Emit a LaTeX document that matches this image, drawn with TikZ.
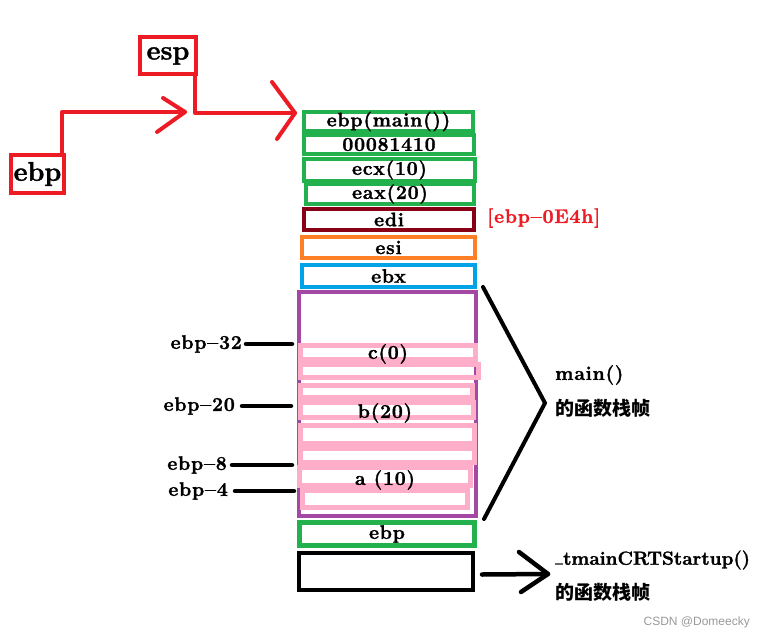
\documentclass[tikz,border=0pt]{standalone}
\usepackage{fontspec}
\usetikzlibrary{calc}
\setmainfont{Latin Modern Roman}[BoldFeatures={FakeBold=1.5,LetterSpace=4}]
\newfontfamily\tightfont{Latin Modern Roman}[BoldFeatures={FakeBold=1.5}]
\newfontfamily\cjk{Noto Sans CJK SC}
\newfontfamily\wmfont{Liberation Sans}
\definecolor{pgreen}{HTML}{22B14C}
\definecolor{pred}{HTML}{ED1C24}
\definecolor{pdark}{HTML}{880015}
\definecolor{porange}{HTML}{FF7F27}
\definecolor{pblue}{HTML}{00A2E8}
\definecolor{ppurple}{HTML}{A349A4}
\definecolor{ppink}{HTML}{FFAEC9}
\begin{document}
\begin{tikzpicture}[x=1pt,y=-1pt,
  lbl/.style={font=\bfseries\fontsize{19.5}{19.5}\selectfont, inner sep=0pt},
  cjklbl/.style={font=\cjk\bfseries\fontsize{19}{19}\selectfont, inner sep=0pt},
  stk/.style={draw=#1, line width=4pt, inner sep=0pt, lbl},
  pinkbox/.style={draw=ppink, line width=5pt, inner sep=0pt, lbl},
  reg/.style={draw=pred, line width=4pt, inner sep=0pt, font=\tightfont\bfseries\fontsize{27}{27}\selectfont},
  redline/.style={draw=pred, line width=4pt, line cap=round, line join=round},
  blackline/.style={draw=black, line width=4.5pt, line cap=round, line join=round}]
\useasboundingbox (0,0) rectangle (765,639);

% registers
\node[reg, minimum width=56, minimum height=37] (espreg) at (168,56) {esp};
\node[reg, minimum width=53, minimum height=38] (ebpreg) at (37.5,174) {ebp};

% saved registers at the top of the frame
\node[stk=pgreen, minimum width=169, minimum height=19] (n1) at (388.5,121.5) {ebp(main())};
\node[stk=pgreen, minimum width=170, minimum height=19] (n2) at (389,144.5) {00081410};
\node[stk=pgreen, minimum width=171, minimum height=22] (n3) at (389.5,170) {ecx(10)};
\node[stk=pgreen, minimum width=168, minimum height=18] (n4) at (390,194) {eax(20)};
\node[stk=pdark, minimum width=170, minimum height=21] (n5) at (389,219.5) {edi};
\node[stk=porange, minimum width=173, minimum height=21] (n6) at (388.5,247.5) {esi};
\node[stk=pblue, minimum width=173, minimum height=22] (n7) at (388.5,276) {ebx};
\node[lbl, text=pred, anchor=west] (edioff) at (487,218) {[ebp--0E4h]};

% local variable area
\node[draw=ppurple, line width=4pt, minimum width=177, minimum height=224, inner sep=0pt] (locals) at (387.5,404) {};
\node[pinkbox, minimum width=175, minimum height=14] (pk1) at (388,352.5) {};
\node[pinkbox, minimum width=178, minimum height=13] (pk2) at (389.5,371) {};
\node[pinkbox, minimum width=172, minimum height=12] (pk3) at (386.5,391.5) {};
\node[pinkbox, minimum width=173, minimum height=15] (pk4) at (387,410) {};
\node[pinkbox, minimum width=174, minimum height=18] (pk5) at (387.5,434.5) {};
\node[pinkbox, minimum width=174, minimum height=14] (pk6) at (387.5,455.5) {};
\node[pinkbox, minimum width=171, minimum height=18] (pk7) at (385,476.5) {};
\node[pinkbox, minimum width=165, minimum height=17] (pk8) at (385,499) {};
\node[lbl] (vc) at (388,354) {c(0)};
\node[lbl] (vb) at (385,413) {b(20)};
\node[lbl] (va) at (385,480) {a (10)};

% bottom of the frame and the caller's frame
\node[draw=pgreen, line width=5pt, minimum width=175, minimum height=23, inner sep=0pt, lbl] (n8) at (387,534) {ebp};
\node[draw=black, line width=4pt, minimum width=174, minimum height=37, inner sep=0pt] (caller) at (386,571.5) {};

% offsets relative to ebp
\node[lbl, anchor=east] (l32) at (242,344) {ebp--32};
\node[lbl, anchor=east] (l20) at (235,406) {ebp--20};
\node[lbl, anchor=east] (l8) at (227,465) {ebp--8};
\node[lbl, anchor=east] (l4) at (228,491) {ebp--4};
\draw[blackline, shorten <=4pt, shorten >=6pt] (l32.east) -- (l32.east -| pk1.west);
\draw[blackline, shorten <=7pt, shorten >=7pt] (l20.east) -- (l20.east -| pk4.west);
\draw[blackline, shorten <=5pt, shorten >=5pt] (l8.east) -- (l8.east -| pk7.west);
\draw[blackline, shorten <=7pt, shorten >=3pt] (l4.east) -- (l4.east -| pk7.west);

% ebp / esp movement arrows
\coordinate (t1) at (185,112);
\coordinate (t2) at (295,113);
\draw[redline] ([xshift=-4pt]ebpreg.north east) |- (t1);
\draw[redline] ($(t1)+(-22,-14)$) -- (t1) -- ++(-28,20);
\draw[redline] ([xshift=-3pt]espreg.south east) |- (t2);
\draw[redline] ($(t2)+(-23,-31)$) -- (t2) -- ++(-18,26);

% brace for main's frame
\coordinate (bk) at (545,403);
\draw[blackline, line width=4pt] ([xshift=5pt,yshift=3pt]locals.north east) -- (bk) -- ([xshift=6pt,yshift=-1pt]locals.south east);
\node[lbl, anchor=west] (mname) at (555,375) {main()};
\node[cjklbl, anchor=west] (mdesc) at (555,408) {的函数栈帧};

% arrow to the caller's frame
\coordinate (t3) at (548,574);
\draw[blackline] ([xshift=7pt,yshift=-3pt]caller.east) -- (t3);
\draw[blackline] ($(t3)+(-29,-22)$) -- (t3) -- ++(-27,18);
\node[lbl, font=\tightfont\bfseries\fontsize{19}{19}\selectfont, anchor=west] (cname) at (555,560)
  {{\color{black!60}\rule{8pt}{1.6pt}}tmainCRTStartup()};
\node[cjklbl, anchor=west] (cdesc) at (555,592) {的函数栈帧};

\node[font=\wmfont\fontsize{12}{12}\selectfont, text=black!40, anchor=east, inner sep=0pt] (wm) at (750,622) {CSDN @Domeecky};
\end{tikzpicture}
\end{document}
